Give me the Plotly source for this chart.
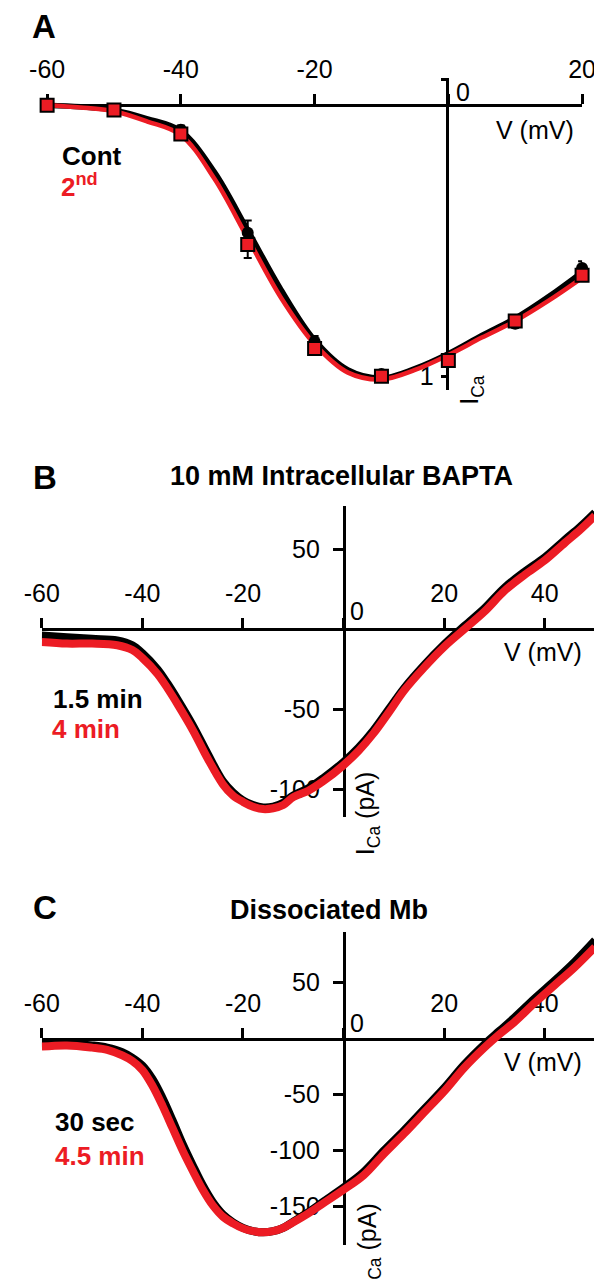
import plotly.graph_objects as go

W, H = 602, 1280
RED = "#ec1c24"
FONT = "Arial, Liberation Sans, sans-serif"

# ---- panel A: normalized I-V, Cont vs 2nd ----
V_PTS = [-60, -50, -40, -30, -20, -10, 0, 10, 20]
CONT_PTS = [0.0, 0.015, 0.09, 0.47, 0.87, 0.99, 0.935, 0.805, 0.60]
CONT_ERR = [0.005, 0.005, 0.015, 0.045, 0.02, 0.01, 0.01, 0.015, 0.025]
SECOND_PTS = [0.0, 0.018, 0.106, 0.513, 0.896, 0.998, 0.94, 0.795, 0.626]
SECOND_ERR = [0.005, 0.005, 0.01, 0.05, 0.015, 0.01, 0.01, 0.01, 0.015]

V_FIT = [-60, -55, -50, -45, -40, -35, -30, -25, -20, -15, -10, -5, 0, 5, 10, 15, 20]
CONT_FIT = [0.0, 0.006, 0.018, 0.05, 0.095, 0.245, 0.46, 0.68, 0.865, 0.975, 1.005,
            0.97, 0.915, 0.848, 0.785, 0.705, 0.615]
SECOND_FIT = [0.0, 0.008, 0.022, 0.06, 0.11, 0.27, 0.49, 0.71, 0.88, 0.985, 1.01,
              0.975, 0.92, 0.856, 0.795, 0.72, 0.636]

# ---- panel B: 10 mM intracellular BAPTA (pA) ----
V_B = [-60, -55, -50, -45, -42, -40, -37, -35, -33, -30, -27, -24, -22, -20, -18, -16,
       -14, -12, -10, -7, -4, 0, 3, 6, 9, 12, 16, 20, 24, 28, 32, 36, 40, 44, 47, 50]
B_EARLY = [-4, -5, -6, -7, -10, -15, -25, -34, -44, -60, -78, -95, -102, -107, -110, -111.5,
           -111, -108.5, -104, -99.5, -93, -83, -74, -63, -50, -37, -22.5, -9.5, 2, 13, 26,
           36, 45, 56, 64, 73]
B_LATE = [-8, -9, -9, -10, -13, -18, -28, -37, -47, -63, -81, -97, -104, -108, -111, -112.5,
          -112, -110, -105, -101, -95, -85, -76, -65, -52, -38.5, -24, -11, 0, 11, 24,
          34, 43, 54, 62, 71]

# ---- panel C: dissociated Mb (pA) ----
V_C = [-60, -55, -50, -47, -44, -42, -40, -38, -36, -34, -32, -30, -28, -26, -24, -22, -20,
       -18, -16, -14, -12, -10, -7, -4, 0, 4, 8, 12, 16, 20, 24, 28, 31, 34, 38, 42, 46, 50]
C_EARLY = [-4, -4, -6, -8, -12, -17, -24, -36, -53, -73, -94, -113, -131, -146, -157, -164,
           -169, -172, -173, -172, -169, -163.5, -155, -145.5, -133, -119, -100, -82, -63,
           -44, -23, -5, 7, 19, 36, 52, 69, 88]
C_LATE = [-7, -6, -8, -10, -15, -20, -28, -42, -60, -80, -100, -118, -135, -149, -159, -165,
          -169.5, -172, -173, -172, -169, -164, -156, -147, -135, -122, -103, -85, -66, -47,
          -26, -8, 4, 15, 32, 48, 64, 82]

X_TICKS_A = [-60, -40, -20, 0, 20]
X_TICKS_BC = [-60, -40, -20, 0, 20, 40]
Y_TICKS_B = [-100, -50, 50]
Y_TICKS_C = [-150, -100, -50, 50]


def px(x):
    return x / W


def py(y):
    return 1 - y / H


def labels(vals, skip_zero=True):
    # plain hyphen instead of plotly's unicode minus; 0 is placed by hand
    return ["" if (v == 0 and skip_zero) else str(v) for v in vals]


fig = go.Figure()

# A traces
fig.add_trace(go.Scatter(x=V_FIT, y=[-v for v in CONT_FIT], mode="lines",
                         line=dict(color="black", width=5.5, shape="spline"),
                         xaxis="x", yaxis="y"))
fig.add_trace(go.Scatter(x=V_FIT, y=[-v for v in SECOND_FIT], mode="lines",
                         line=dict(color=RED, width=4.5, shape="spline"),
                         xaxis="x", yaxis="y"))
fig.add_trace(go.Scatter(x=V_PTS, y=[-v for v in CONT_PTS], mode="markers",
                         marker=dict(symbol="circle", size=12, color="black"),
                         error_y=dict(type="data", array=CONT_ERR, color="black",
                                      thickness=2, width=4),
                         cliponaxis=False, xaxis="x", yaxis="y"))
fig.add_trace(go.Scatter(x=V_PTS, y=[-v for v in SECOND_PTS], mode="markers",
                         marker=dict(symbol="square", size=13, color=RED,
                                     line=dict(color="black", width=2)),
                         error_y=dict(type="data", array=SECOND_ERR, color="black",
                                      thickness=2, width=4),
                         cliponaxis=False, xaxis="x", yaxis="y"))

# B and C traces
for xs, early, late, ax in [(V_B, B_EARLY, B_LATE, "2"), (V_C, C_EARLY, C_LATE, "3")]:
    fig.add_trace(go.Scatter(x=xs, y=early, mode="lines",
                             line=dict(color="black", width=8, shape="spline"),
                             xaxis="x" + ax, yaxis="y" + ax))
    fig.add_trace(go.Scatter(x=xs, y=late, mode="lines",
                             line=dict(color=RED, width=8, shape="spline"),
                             xaxis="x" + ax, yaxis="y" + ax))

tickfont = dict(family=FONT, size=25, color="black")
axis_common = dict(showgrid=False, zeroline=False, showline=True, linecolor="black",
                   linewidth=2.5, ticks="outside", tickcolor="black", tickwidth=2.5,
                   tickfont=tickfont, anchor="free", layer="below traces")

# panel A axes
yA0, sA = 97.3, 271.7
fig.update_layout(
    xaxis=dict(axis_common, domain=[px(22.3), px(587.3)], range=[-60, 20], side="top",
               position=py(yA0), tickvals=X_TICKS_A, ticktext=labels(X_TICKS_A),
               ticklen=10, ticklabelstandoff=6),
    yaxis=dict(axis_common, domain=[py(382), py(70)],
               range=[-(382 - yA0) / sA, (yA0 - 70) / sA], side="left",
               position=px(445), tickvals=[-1, 0.095], ticktext=["1", ""], ticklen=6,
               ticklabelstandoff=2),
)

# panel B/C axes share horizontal placement
x_dom = [px(16.7), px(601)]
yB0, sB = 621.7, 1.6
yC0, sC = 1031.5, 1.12
fig.update_layout(
    xaxis2=dict(axis_common, domain=x_dom, range=[-60, 50], side="top", position=py(yB0),
                tickvals=X_TICKS_BC, ticktext=labels(X_TICKS_BC), ticklen=10,
                ticklabelstandoff=6),
    yaxis2=dict(axis_common, domain=[py(810), py(498)],
                range=[-(810 - yB0) / sB, (yB0 - 498) / sB], side="left",
                position=px(335.5), tickvals=Y_TICKS_B, ticktext=labels(Y_TICKS_B),
                ticklen=10, ticklabelstandoff=8),
    xaxis3=dict(axis_common, domain=x_dom, range=[-60, 50], side="top", position=py(yC0),
                tickvals=X_TICKS_BC, ticktext=labels(X_TICKS_BC), ticklen=10,
                ticklabelstandoff=6),
    yaxis3=dict(axis_common, domain=[py(1238.3), py(925)],
                range=[-(1238.3 - yC0) / sC, (yC0 - 925) / sC], side="left",
                position=px(335.5), tickvals=Y_TICKS_C, ticktext=labels(Y_TICKS_C),
                ticklen=10, ticklabelstandoff=8),
)


def note(text, x, y, size=25, color="black", angle=0, xanchor="center"):
    fig.add_annotation(text=text, x=px(x), y=py(y), xref="paper", yref="paper",
                       showarrow=False, textangle=angle, xanchor=xanchor, yanchor="middle",
                       font=dict(family=FONT, size=size, color=color))


# panel letters and titles
note("<b>A</b>", 19, 19, size=33)
note("<b>B</b>", 20, 470, size=33)
note("<b>C</b>", 20, 900, size=33)
note("<b>10 mM Intracellular BAPTA</b>", 333, 468, size=27)
note("<b>Dissociated Mb</b>", 320, 903, size=27)

# legends
note("<b>Cont</b>", 36, 148, size=26, xanchor="left")
note("<b>2<sup>nd</sup></b>", 35, 178, size=26, color=RED, xanchor="left")
note("<b>1.5 min</b>", 26, 692, size=26, xanchor="left")
note("<b>4 min</b>", 25, 722, size=26, color=RED, xanchor="left")
note("<b>30 sec</b>", 29, 1115, size=26, xanchor="left")
note("<b>4.5 min</b>", 28, 1149, size=26, color=RED, xanchor="left")

# axis labels
note("V (mV)", 538, 122)
note("V (mV)", 546, 645)
note("V (mV)", 546, 1055)
note("0", 462, 84)
note("0", 350, 603)
note("0", 350, 1016)
note("I<sub>Ca</sub>", 470, 382, angle=-90)
note("I<sub>Ca</sub> (pA)", 361, 806, angle=-90)
note("I<sub>Ca</sub> (pA)", 362, 1238, angle=-90)

fig.update_layout(width=W, height=H, margin=dict(l=0, r=0, t=0, b=0),
                  paper_bgcolor="white", plot_bgcolor="white", showlegend=False)

fig.write_html("out.html")
